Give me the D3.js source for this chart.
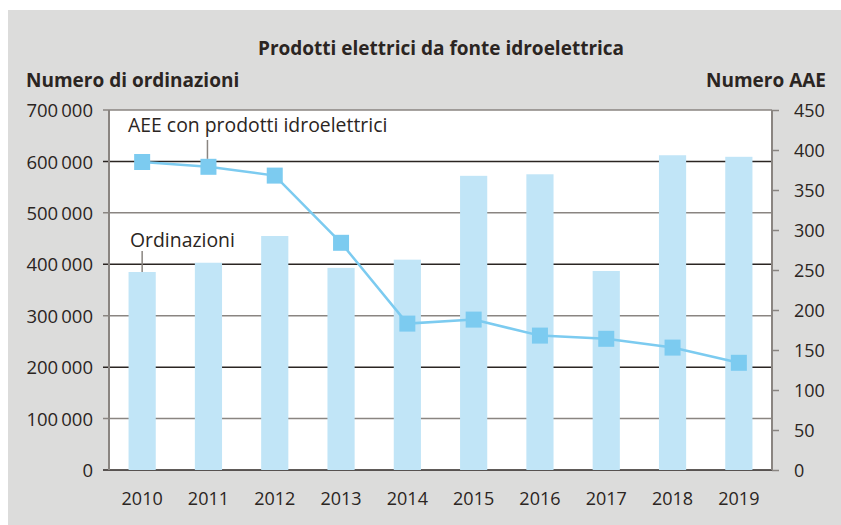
<!DOCTYPE html>
<html>
<head>
<meta charset="utf-8">
<script src="https://cdn.jsdelivr.net/npm/d3@7"></script>
<style>
  body { margin: 0; background: #ffffff; }
  text { font-family: "Open Sans", sans-serif; fill: #2b2522; }
</style>
</head>
<body>
<div id="viz"></div>
<script>
const years = ['2010', '2011', '2012', '2013', '2014', '2015', '2016', '2017', '2018', '2019'],
    orders = [385000, 403000, 455000, 393000, 409000, 572000, 575000, 387000, 612000, 609000],
    aee = [385, 379, 368, 284, 183, 188, 168, 164, 153, 134],
    leftTicks = [0, 100000, 200000, 300000, 400000, 500000, 600000, 700000],
    rightTicks = [0, 50, 100, 150, 200, 250, 300, 350, 400, 450];

const svg = d3.select('#viz')
    .append('svg')
    .attr('width', 841)
    .attr('height', 525);

const margin = {top: 110, right: 69, bottom: 55, left: 109},
    width = 841 - margin.left - margin.right,
    height = 525 - margin.top - margin.bottom;

// grey panel
svg.append('rect')
    .attr('x', 8).attr('y', 10)
    .attr('width', 833).attr('height', 515)
    .attr('fill', '#dcdcdb');

const xScale = d3.scaleBand()
    .domain(years)
    .range([0, width])
    .paddingInner(0.59)
    .paddingOuter(0.295);

const yLeft = d3.scaleLinear()
    .domain([0, 700000])
    .range([height, 0]);

const yRight = d3.scaleLinear()
    .domain([0, 450])
    .range([height, 0]);

const g = svg.append('g')
    .attr('transform', 'translate(' + margin.left + ',' + margin.top + ')');

g.append('rect')
    .attr('width', width).attr('height', height)
    .attr('fill', '#ffffff');

// grid lines, alternating dark / grey like the print
g.selectAll('.grid')
    .data(leftTicks)
    .enter().append('line')
    .attr('x1', -6).attr('x2', width)
    .attr('y1', d => yLeft(d)).attr('y2', d => yLeft(d))
    .attr('stroke', d => (d / 100000) % 2 === 0 ? '#2b2522' : '#8a8581')
    .attr('stroke-width', 1.5);

// bars
g.selectAll('.bar')
    .data(orders)
    .enter().append('rect')
    .attr('x', (d, i) => xScale(years[i]))
    .attr('y', d => yLeft(d))
    .attr('width', xScale.bandwidth())
    .attr('height', d => height - yLeft(d))
    .attr('fill', '#c1e5f7');

// axes
const fmt = d => d3.format(',')(d).replace(/,/g, '\u2009');

const leftAxis = g.append('g')
    .call(d3.axisLeft(yLeft).tickValues(leftTicks).tickSize(0).tickPadding(16).tickFormat(fmt));
leftAxis.select('.domain').remove();
leftAxis.selectAll('text').attr('font-size', 18.5).attr('dy', '0.36em');

g.append('line')
    .attr('x1', 0).attr('x2', 0).attr('y1', 0).attr('y2', height)
    .attr('stroke', '#8a8581').attr('stroke-width', 2);

const rightAxis = g.append('g')
    .attr('transform', 'translate(' + width + ',0)')
    .call(d3.axisRight(yRight).tickValues(rightTicks).tickSize(7).tickPadding(15));
rightAxis.select('.domain').attr('stroke', '#8a8581').attr('stroke-width', 2).attr('d', 'M0,0V' + height);
rightAxis.selectAll('line').attr('stroke', '#8a8581').attr('stroke-width', 1.5);
rightAxis.selectAll('text').attr('font-size', 18).attr('dy', '0.36em');

const xAxis = g.append('g')
    .attr('transform', 'translate(0,' + height + ')')
    .call(d3.axisBottom(xScale).tickSize(0).tickPadding(22));
xAxis.select('.domain').remove();
xAxis.selectAll('text').attr('font-size', 18);

// line + markers
const line = d3.line()
    .x((d, i) => xScale(years[i]) + xScale.bandwidth() / 2)
    .y(d => yRight(d));

g.append('path')
    .datum(aee)
    .attr('d', line)
    .attr('fill', 'none')
    .attr('stroke', '#7ccbf0')
    .attr('stroke-width', 2.5);

g.selectAll('.marker')
    .data(aee)
    .enter().append('rect')
    .attr('x', (d, i) => xScale(years[i]) + xScale.bandwidth() / 2 - 8)
    .attr('y', d => yRight(d) - 8)
    .attr('width', 16).attr('height', 16)
    .attr('fill', '#7ccbf0');

// annotations
const cx = i => xScale(years[i]) + xScale.bandwidth() / 2;

g.append('line')
    .attr('x1', cx(1) - 1).attr('x2', cx(1) - 1)
    .attr('y1', 30).attr('y2', yRight(aee[1]) - 8)
    .attr('stroke', '#8a8581').attr('stroke-width', 1.5);
g.append('text')
    .attr('x', 19).attr('y', 22)
    .attr('font-size', 19.4)
    .text('AEE con prodotti idroelettrici');

g.append('line')
    .attr('x1', cx(0)).attr('x2', cx(0))
    .attr('y1', 141).attr('y2', yLeft(orders[0]))
    .attr('stroke', '#8a8581').attr('stroke-width', 1.5);
g.append('text')
    .attr('x', 21).attr('y', 137)
    .attr('font-size', 19.4)
    .text('Ordinazioni');

// titles
svg.append('text')
    .attr('x', 441).attr('y', 55)
    .attr('text-anchor', 'middle')
    .attr('font-size', 19).attr('font-weight', 'bold')
    .text('Prodotti elettrici da fonte idroelettrica');

svg.append('text')
    .attr('x', 26).attr('y', 87)
    .attr('font-size', 19).attr('font-weight', 'bold')
    .text('Numero di ordinazioni');

svg.append('text')
    .attr('x', 826).attr('y', 87)
    .attr('text-anchor', 'end')
    .attr('font-size', 19).attr('font-weight', 'bold')
    .text('Numero AAE');
</script>
</body>
</html>
